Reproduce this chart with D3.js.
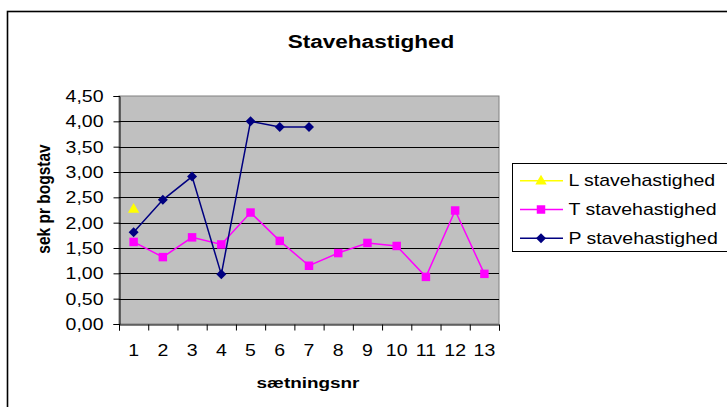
<!DOCTYPE html>
<html><head><meta charset="utf-8">
<script src="https://cdn.jsdelivr.net/npm/d3@7"></script>
<style>body{margin:0;background:#fff}svg{display:block}text{font-family:"Liberation Sans",Arial,sans-serif}</style>
</head><body><svg id="c" width="727" height="407"></svg>
<script>
const categories = [1,2,3,4,5,6,7,8,9,10,11,12,13];
const L_values = [2.28,null,null,null,null,null,null,null,null,null,null,null,null];
const T_values = [1.62,1.32,1.71,1.57,2.20,1.64,1.15,1.40,1.60,1.54,0.93,2.24,0.99];
const P_values = [1.81,2.45,2.91,0.98,4.00,3.89,3.89,null,null,null,null,null,null];
const yTicks = [0,0.5,1,1.5,2,2.5,3,3.5,4,4.5];
const seriesNames = ["L stavehastighed","T stavehastighed","P stavehastighed"];
const title = "Stavehastighed", xTitle = "sætningsnr", yTitle = "sek pr bogstav";

const SX = 1.22;
const svg = d3.select("#c");
const pl = {l:119, r:499, t:96, b:324};
const x = d3.scaleBand().domain(categories).range([pl.l, pl.r]);
const xb = d3.scaleLinear().domain([0, categories.length]).range([pl.l, pl.r]);
const y = d3.scaleLinear().domain([0, 4.5]).range([pl.b, pl.t]);
const fmt = d3.formatLocale({decimal:",", thousands:".", grouping:[3], currency:["",""]}).format(".2f");

// outer border
svg.append("rect").attr("x",7.5).attr("y",11.5).attr("width",760).attr("height",450)
  .attr("fill","#fff").attr("stroke","#000").attr("stroke-width",1.6);

function stxt(g, tx, ty, str, size, weight, anchor, rot){
  return g.append("text").attr("transform",`translate(${tx},${ty}) scale(${SX},1)` + (rot?` rotate(${rot})`:""))
    .attr("font-size",size).attr("font-weight",weight||"normal").attr("text-anchor",anchor||"start")
    .attr("fill","#000").text(str);
}

// title
stxt(svg, 371, 47.5, title, 18.5, "bold", "middle");

// plot area
svg.append("rect").attr("x",pl.l).attr("y",pl.t).attr("width",pl.r-pl.l).attr("height",pl.b-pl.t)
  .attr("fill","#c0c0c0").attr("stroke","#808080").attr("stroke-width",1);
svg.append("g").selectAll("line").data(yTicks.filter(v=>v>0 && v<4.5)).join("line")
  .attr("x1",pl.l).attr("x2",pl.r).attr("y1",d=>Math.round(y(d))+0.5).attr("y2",d=>Math.round(y(d))+0.5)
  .attr("stroke","#000").attr("stroke-width",1);

// y axis
const ya = svg.append("g").attr("transform",`translate(${pl.l+0.5},0)`)
  .call(d3.axisLeft(y).tickValues(yTicks).tickSize(6).tickFormat(fmt));
ya.select(".domain").attr("stroke","#000");
ya.selectAll(".tick line").attr("stroke","#000");
ya.selectAll(".tick text").each(function(){
  const t = d3.select(this);
  t.attr("x",null).attr("dy",null).attr("transform",`translate(-16,5.6) scale(${SX},1)`)
   .attr("font-size",16).attr("font-family",'"Liberation Sans",Arial,sans-serif').attr("fill","#000");
});

// x axis boundary ticks
const xa = svg.append("g").attr("transform",`translate(0,${pl.b+0.5})`)
  .call(d3.axisBottom(xb).tickValues(d3.range(0,categories.length+1)).tickSize(6).tickFormat(""));
xa.select(".domain").attr("stroke","#000");
xa.selectAll(".tick line").attr("stroke","#000");
// x labels
const xl = svg.append("g").attr("transform",`translate(0,${pl.b})`)
  .call(d3.axisBottom(x).tickSize(0));
xl.select(".domain").remove();
xl.selectAll(".tick text").each(function(){
  d3.select(this).attr("y",null).attr("dy",null).attr("transform",`translate(0,31.5) scale(${SX},1)`)
   .attr("font-size",16).attr("font-family",'"Liberation Sans",Arial,sans-serif').attr("fill","#000");
});

// axis titles
stxt(svg, 308, 387.5, xTitle, 15.5, "bold", "middle");
stxt(svg, 49.5, 199, yTitle, 15.5, "bold", "middle", -90);

// series
const cx = d => x(d) + x.bandwidth()/2;
const line = d3.line().defined(d=>d.v!=null).x(d=>cx(d.c)).y(d=>y(d.v));
const mk = arr => categories.map((c,i)=>({c, v:arr[i]}));
const tri = d3.symbol().type(d3.symbolTriangle).size(56);
const sq = d3.symbol().type(d3.symbolSquare).size(72);
const dia = d3.symbol().type(d3.symbolSquare).size(50); // rotated 45° below

const T = mk(T_values), P = mk(P_values), Ld = mk(L_values);
svg.append("path").attr("d",line(T)).attr("fill","none").attr("stroke","#ff00ff").attr("stroke-width",1.5);
svg.append("g").selectAll("path").data(T.filter(d=>d.v!=null)).join("path")
  .attr("d",sq).attr("transform",d=>`translate(${cx(d.c)},${y(d.v)})`).attr("fill","#ff00ff");
svg.append("path").attr("d",line(P)).attr("fill","none").attr("stroke","#000080").attr("stroke-width",1.5);
svg.append("g").selectAll("path").data(P.filter(d=>d.v!=null)).join("path")
  .attr("d",dia).attr("transform",d=>`translate(${cx(d.c)},${y(d.v)}) rotate(45)`).attr("fill","#000080");
svg.append("path").attr("d",line(Ld)).attr("fill","none").attr("stroke","#ffff00").attr("stroke-width",1.5);
svg.append("g").selectAll("path").data(Ld.filter(d=>d.v!=null)).join("path")
  .attr("d",tri).attr("transform",d=>`translate(${cx(d.c)},${y(d.v)+1})`).attr("fill","#ffff00");

// legend
svg.append("rect").attr("x",512.5).attr("y",163.5).attr("width",260).attr("height",88)
  .attr("fill","#fff").attr("stroke","#000").attr("stroke-width",1);
const legColors = ["#ffff00","#ff00ff","#000080"];
const legSyms = [tri, sq, dia];
const rows = [180.7, 209.5, 238.3];
seriesNames.forEach((n,i)=>{
  svg.append("line").attr("x1",520).attr("x2",563).attr("y1",rows[i]).attr("y2",rows[i])
    .attr("stroke",legColors[i]).attr("stroke-width",1.5);
  svg.append("path").attr("d",legSyms[i])
    .attr("transform",`translate(541,${rows[i]+(i==0?0.5:0)})` + (i==2?" rotate(45)":""))
    .attr("fill",legColors[i]);
  stxt(svg, 568.5, rows[i]+5.5, n, 16, "normal", "start");
});
</script></body></html>
